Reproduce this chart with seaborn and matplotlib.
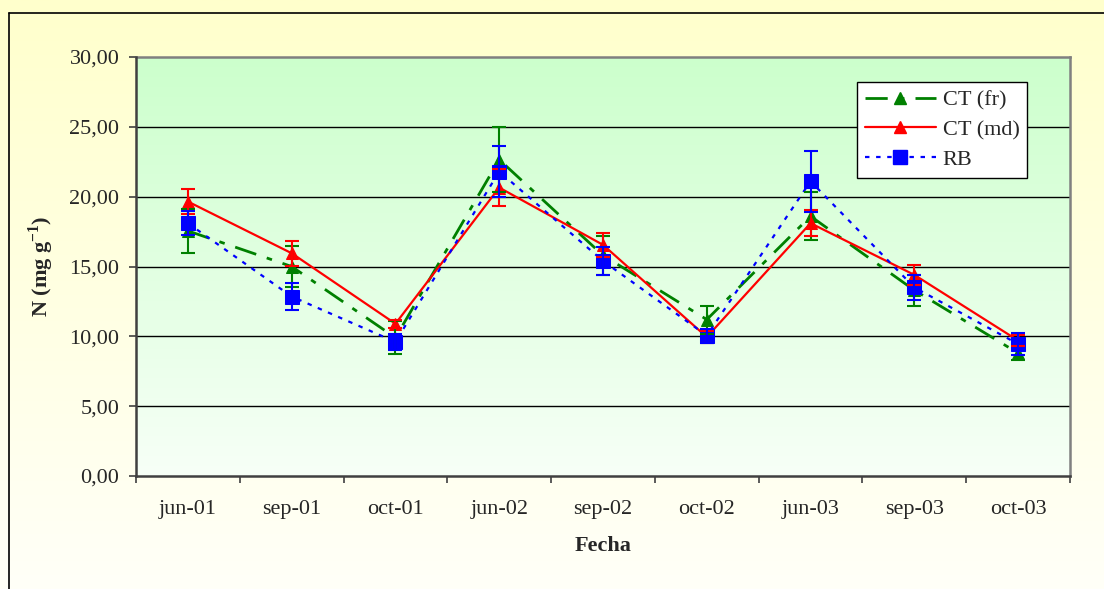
import numpy as np
import pandas as pd
import matplotlib
matplotlib.use("Agg")
import matplotlib.pyplot as plt
import seaborn as sns
from matplotlib.colors import LinearSegmentedColormap
from matplotlib.lines import Line2D

fechas = ["jun-01", "sep-01", "oct-01", "jun-02", "sep-02", "oct-02", "jun-03", "sep-03", "oct-03"]
ct_fr = [17.55, 15.0, 9.9, 22.65, 15.8, 11.2, 18.6, 13.3, 8.8]
ct_fr_err = [1.6, 1.45, 1.2, 2.35, 1.4, 1.0, 1.7, 1.1, 0.5]
ct_md = [19.65, 15.95, 10.9, 20.65, 16.55, 9.95, 18.1, 14.4, 9.7]
ct_md_err = [0.9, 0.9, 0.3, 1.3, 0.88, 0.4, 0.95, 0.7, 0.4]
rb = [18.1, 12.85, 9.6, 21.8, 15.4, 10.05, 21.1, 13.5, 9.45]
rb_err = [0.85, 1.0, 0.6, 1.8, 1.0, 0.5, 2.2, 0.9, 0.8]
yticks = [0, 5, 10, 15, 20, 25, 30]
ytick_labels = ["0,00", "5,00", "10,00", "15,00", "20,00", "25,00", "30,00"]

sns.set_theme(style="white")
plt.rcParams['font.family'] = ['Liberation Serif', 'DejaVu Serif']
plt.rcParams['mathtext.fontset'] = 'custom'
plt.rcParams['mathtext.rm'] = 'Liberation Serif'
plt.rcParams['mathtext.bf'] = 'Liberation Serif:bold'

W, H = 1104, 589
fig = plt.figure(figsize=(W / 100, H / 100), dpi=100)

# figure background gradient
bg = fig.add_axes([0, 0, 1, 1], zorder=-10)
ycmap = LinearSegmentedColormap.from_list("yel", ["#FFFFF8", "#FFFFCC"])
grad = np.linspace(0, 1, 256).reshape(-1, 1)
bg.imshow(grad, aspect="auto", cmap=ycmap, origin="lower", extent=[0, 1, 0, 1])
bg.set_xlim(0, 1); bg.set_ylim(0, 1)
bg.axis("off")
bg.plot([9 / W, 9 / W], [0, 1 - 13 / H], color="black", lw=1.2)
bg.plot([9 / W, 1], [1 - 13 / H, 1 - 13 / H], color="black", lw=1.2)

x0, x1, y0, y1 = 136, 1070, 57, 476
ax = fig.add_axes([x0 / W, 1 - y1 / H, (x1 - x0) / W, (y1 - y0) / H])
ax.set_xlim(-0.5, 8.5)
ax.set_ylim(0, 30)
gcmap = LinearSegmentedColormap.from_list("grn", ["#F7FFF7", "#CCFFCC"])
ax.imshow(grad, aspect="auto", cmap=gcmap, origin="lower", extent=[-0.5, 8.5, 0, 30], zorder=0)

for yv in yticks[1:-1]:
    ax.axhline(yv, color="black", lw=1.0, zorder=1)

pos = np.arange(len(fechas))
df = pd.DataFrame({"pos": np.concatenate([pos, pos, pos]),
                   "N": ct_fr + ct_md + rb,
                   "serie": ["CT (fr)"] * 9 + ["CT (md)"] * 9 + ["RB"] * 9})

styles = {
    "CT (fr)": dict(color="#008000", ls=(0, (8, 4, 2, 4)), lw=2.0, marker="^", ms=9, errs=ct_fr_err),
    "CT (md)": dict(color="#FF0000", ls="-", lw=1.6, marker="^", ms=9, errs=ct_md_err),
    "RB": dict(color="#0000FF", ls=(0, (2, 3)), lw=1.6, marker="s", ms=10, errs=rb_err),
}
handles = []
for name, st in styles.items():
    d = df[df.serie == name]
    sns.lineplot(data=d, x="pos", y="N", ax=ax, color=st["color"], linestyle=st["ls"],
                 lw=st["lw"], marker=st["marker"], markersize=st["ms"],
                 markeredgecolor=st["color"], zorder=3, legend=False)
    ax.errorbar(d["pos"], d["N"], yerr=st["errs"], fmt="none", ecolor=st["color"],
                elinewidth=1.5, capsize=5, capthick=1.5, zorder=4)
    handles.append(Line2D([0], [0], color=st["color"], ls=st["ls"], lw=st["lw"],
                          marker=st["marker"], ms=st["ms"], markeredgecolor=st["color"]))

ax.set_xticks(pos)
ax.set_xticklabels(fechas, fontsize=16)
ax.set_xticks(np.arange(-0.5, 9, 1), minor=True)
ax.tick_params(axis="x", which="major", length=0, pad=17)
ax.tick_params(axis="x", which="minor", length=5, width=1.2, color="#404040", direction="out", bottom=True)
ax.set_yticks(yticks)
ax.set_yticklabels(ytick_labels, fontsize=16)
ax.tick_params(axis="y", length=5, width=1.2, color="#404040", direction="out", left=True, pad=7)

for s in ["left", "bottom"]:
    ax.spines[s].set_color("#404040"); ax.spines[s].set_linewidth(1.8)
for s in ["top", "right"]:
    ax.spines[s].set_color("#808080"); ax.spines[s].set_linewidth(1.8)
ax.spines["left"].set_zorder(5); ax.spines["bottom"].set_zorder(5)

ax.set_xlabel("Fecha", fontsize=16, fontweight="bold")
ax.set_ylabel(r"N (mg g$^{\mathbf{-1}}$)", fontsize=16, fontweight="bold")
ax.xaxis.set_label_coords(0.5, (y1 - 536) / (y1 - y0))
ax.yaxis.set_label_coords((56 - x0) / (x1 - x0), 0.5)

leg = ax.legend(handles, list(styles.keys()), loc="upper left",
                bbox_to_anchor=((857 - x0) / (x1 - x0), (y1 - 82) / (y1 - y0)),
                frameon=True, fancybox=False, framealpha=1, edgecolor="black",
                fontsize=16, handlelength=3.2, borderpad=0.35, labelspacing=0.42,
                handletextpad=0.3, borderaxespad=0)
leg.get_frame().set_linewidth(1.0)
leg.set_zorder(10)

fig.savefig("out.png", dpi=100)
